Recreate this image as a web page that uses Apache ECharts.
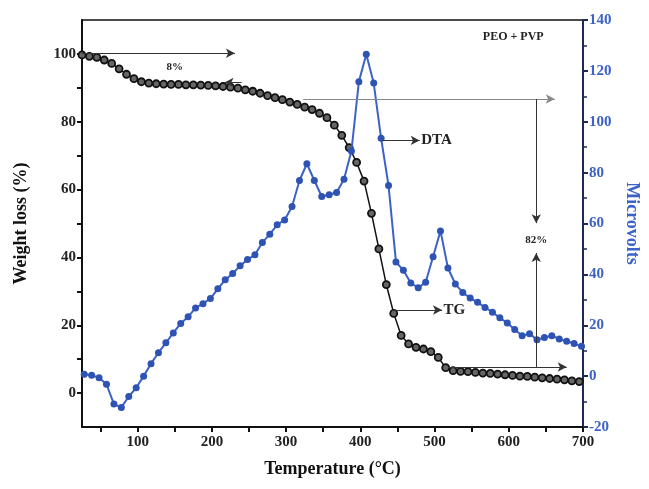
<!DOCTYPE html>
<html><head><meta charset="utf-8">
<script src="https://cdn.jsdelivr.net/npm/echarts@6/dist/echarts.min.js"></script>
<style>html,body{margin:0;padding:0;background:#fff}#c{width:649px;height:489px}</style>
</head><body><div id="c"></div>
<script>
// ---- data ----
var tgTemp = [25,35,45,55,65,75,85,95,105,115,125,135,145,155,165,175,185,195,205,215,225,235,245,255,265,275,285,295,305,315,325,335,345,355,365,375,385,395,405,415,425,435,445,455,465,475,485,495,505,515,525,535,545,555,565,575,585,595,605,615,625,635,645,655,665,675,685,695];
var tgWeight = [99.7,99.3,99.0,98.2,97.2,95.6,94.0,92.7,91.8,91.4,91.2,91.1,91.0,91.0,90.9,90.9,90.8,90.7,90.6,90.4,90.2,89.9,89.4,89.0,88.4,87.7,87.1,86.5,85.8,85.1,84.3,83.6,82.5,81.2,79.0,76.0,72.4,68.0,62.5,53.0,42.5,32.0,23.5,17.0,14.5,13.5,13.0,12.2,10.5,7.5,6.6,6.4,6.3,6.1,5.9,5.8,5.6,5.4,5.2,5.0,4.9,4.7,4.5,4.3,4.1,3.9,3.6,3.4];
var dtaTemp = [28,38,48,58,68,78,88,98,108,118,128,138,148,158,168,178,188,198,208,218,228,238,248,258,268,278,288,298,308,318,328,338,348,358,368,378,388,398,408,418,428,438,448,458,468,478,488,498,508,518,528,538,548,558,568,578,588,598,608,618,628,638,648,658,668,678,688,698];
var dtaMicrovolts = [0.7,0.3,-0.6,-3.2,-11,-12.3,-8,-4.6,0,4.9,9.2,13.1,17,20.7,23.3,26.8,28.5,30.5,34.3,37.9,40.3,43.4,45.8,47.7,52.5,55.8,59.5,61.4,66.7,76.9,83.5,76.9,70.6,71.3,72.2,77.4,88.5,115.7,126.5,115.2,93.5,74.9,44.9,41.6,36.6,34.7,36.9,46.9,57.1,42.5,36.2,32.9,30.7,29,27,25.1,22.9,20.9,18.3,15.9,16.7,14.3,15.2,15.9,14.6,13.7,12.8,11.7];
var xLabels = [100,200,300,400,500,600,700];
var xTicks = [50,100,150,200,250,300,350,400,450,500,550,600,650,700];
var yLeftLabels = [0,20,40,60,80,100];
var yLeftTicks = [0,10,20,30,40,50,60,70,80,90,100];

function pairs(a,b){return a.map(function(v,i){return [v,b[i]];});}

var FONT = '"Liberation Serif","DejaVu Serif",serif';
var BLUE = '#2f53b3';
var LBLUE = '#3c62c8';

var chart = echarts.init(document.getElementById('c'));
chart.setOption({
  animation:false,
  backgroundColor:'#fff',
  grid:{left:82,right:66,top:20,bottom:62,show:true,borderColor:'#111',borderWidth:1.5},
  xAxis:{
    type:'value',min:25,max:700,
    name:'Temperature (°C)',nameLocation:'middle',nameGap:33,
    nameTextStyle:{fontFamily:FONT,fontWeight:'bold',fontSize:18,color:'#111'},
    axisLine:{onZero:false,lineStyle:{color:'#111',width:2}},
    axisTick:{show:true,inside:false,length:5,customValues:xTicks,lineStyle:{color:'#111',width:2}},
    axisLabel:{customValues:xLabels,fontFamily:FONT,fontWeight:'bold',fontSize:15,color:'#222',margin:8},
    splitLine:{show:false}
  },
  yAxis:[{
    type:'value',min:-10,max:110,position:'left',
    name:'Weight loss (%)',nameLocation:'middle',nameGap:52,
    nameTextStyle:{fontFamily:FONT,fontWeight:'bold',fontSize:18,color:'#111'},
    axisLine:{show:true,onZero:false,lineStyle:{color:'#111',width:2}},
    axisTick:{show:true,length:5,customValues:yLeftTicks,lineStyle:{color:'#111',width:2}},
    axisLabel:{customValues:yLeftLabels,fontFamily:FONT,fontWeight:'bold',fontSize:15,color:'#222',margin:6},
    splitLine:{show:false}
  },{
    type:'value',min:-20,max:140,interval:20,position:'right',
    name:'Microvolts',nameLocation:'middle',nameGap:40,nameRotate:-90,
    nameTextStyle:{fontFamily:FONT,fontWeight:'bold',fontSize:18,color:LBLUE},
    axisLine:{show:true,onZero:false,lineStyle:{color:'#1d2a55',width:2}},
    axisTick:{show:true,length:5,lineStyle:{color:'#1d2a55',width:2}},
    minorTick:{show:true,splitNumber:2,length:4,lineStyle:{color:'#1d2a55',width:1.5}},
    axisLabel:{fontFamily:FONT,fontWeight:'bold',fontSize:15,color:LBLUE,margin:6},
    splitLine:{show:false}
  }],
  series:[{
    name:'TG',type:'line',yAxisIndex:0,z:2,
    data:pairs(tgTemp,tgWeight),
    symbol:'circle',symbolSize:7,showSymbol:true,
    lineStyle:{color:'#111',width:1.5},
    itemStyle:{color:'#666',borderColor:'#111',borderWidth:1.8},
    markLine:{
      silent:true,symbol:['none','arrow'],symbolSize:[7,9],
      label:{show:false},
      lineStyle:{color:'#333',width:1,type:'solid'},
      data:[
        [{coord:[25,100.2]},{coord:[231,100.2]}],
        [{coord:[240,91.6]},{coord:[217,91.6]}],
        [{coord:[323,86.7],lineStyle:{color:'#888'}},{coord:[662,86.7]}],
        [{coord:[637,86.7]},{coord:[637,50.1]}],
        [{coord:[637,7.7]},{coord:[637,41.3]}],
        [{coord:[518,7.7]},{coord:[678,7.7]}],
        [{coord:[429,74.5]},{coord:[480,74.5]}],
        [{coord:[443,24.5]},{coord:[510,24.5]}]
      ]
    },
    markPoint:{
      silent:true,symbol:'circle',symbolSize:0,
      label:{show:true,fontFamily:FONT,fontWeight:'bold',color:'#222'},
      data:[
        {coord:[150,96],label:{formatter:'8%',fontSize:11}},
        {coord:[637,45.1],label:{formatter:'82%',fontSize:11}},
        {coord:[606,105],label:{formatter:'PEO + PVP',fontSize:12}},
        {coord:[482,74.5],label:{formatter:'DTA',fontSize:15,align:'left',position:'right',distance:0}},
        {coord:[512,24.5],label:{formatter:'TG',fontSize:15,align:'left',position:'right',distance:0}}
      ]
    }
  },{
    name:'DTA',type:'line',yAxisIndex:1,z:3,
    data:pairs(dtaTemp,dtaMicrovolts),
    symbol:'circle',symbolSize:7,showSymbol:true,
    lineStyle:{color:LBLUE,width:2},
    itemStyle:{color:BLUE,borderColor:BLUE,borderWidth:0}
  }]
});
</script></body></html>
